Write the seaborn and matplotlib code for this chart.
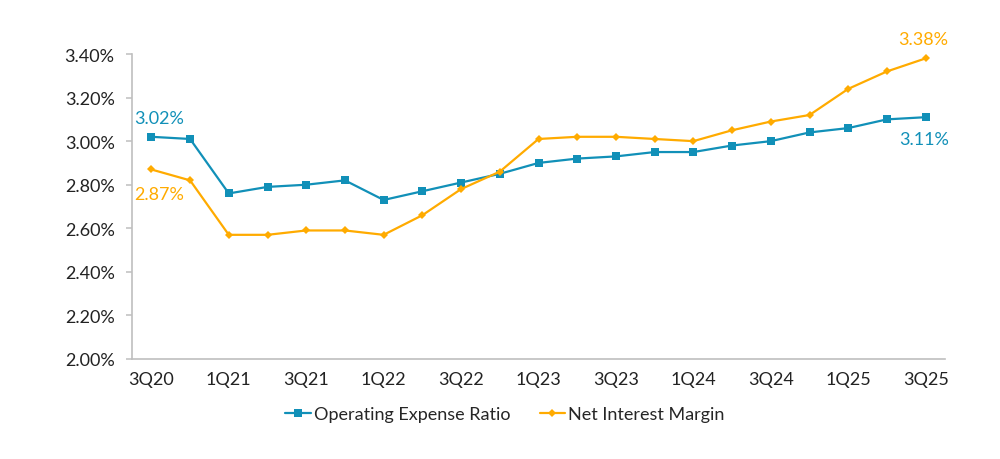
import numpy as np
import pandas as pd
import seaborn as sns
import matplotlib
matplotlib.use('Agg')
import matplotlib.pyplot as plt
from matplotlib.ticker import FuncFormatter, MultipleLocator

quarters = ['3Q20', '4Q20', '1Q21', '2Q21', '3Q21', '4Q21', '1Q22', '2Q22', '3Q22', '4Q22',
            '1Q23', '2Q23', '3Q23', '4Q23', '1Q24', '2Q24', '3Q24', '4Q24', '1Q25', '2Q25', '3Q25']
opex_ratio = [3.02, 3.01, 2.76, 2.79, 2.80, 2.82, 2.73, 2.77, 2.81, 2.85,
              2.90, 2.92, 2.93, 2.95, 2.95, 2.98, 3.00, 3.04, 3.06, 3.10, 3.11]
nim = [2.87, 2.82, 2.57, 2.57, 2.59, 2.59, 2.57, 2.66, 2.78, 2.86,
       3.01, 3.02, 3.02, 3.01, 3.00, 3.05, 3.09, 3.12, 3.24, 3.32, 3.38]
series_names = ['Operating Expense Ratio', 'Net Interest Margin']

blue = '#1190b8'
orange = '#ffab00'

sns.set_style('white')
plt.rcParams['font.family'] = ['Lato', 'DejaVu Sans']

df = pd.DataFrame({'pos': np.arange(len(quarters)), 'quarter': quarters,
                   series_names[0]: opex_ratio, series_names[1]: nim})

fig = plt.figure(figsize=(10, 4.6), dpi=100)
ax = fig.add_axes([0.132, 0.2174, 0.813, 0.663])

sns.lineplot(data=df, x='pos', y=series_names[0], color=blue, marker='s', markersize=6,
             markeredgewidth=0, linewidth=1.6, label=series_names[0], ax=ax)
sns.lineplot(data=df, x='pos', y=series_names[1], color=orange, marker='D', markersize=4,
             markeredgewidth=0, linewidth=1.6, label=series_names[1], ax=ax)

ax.set_xlim(-0.5, len(quarters) - 0.5)
ax.set_ylim(2.0, 3.4)
ax.yaxis.set_major_locator(MultipleLocator(0.2))
ax.yaxis.set_major_formatter(FuncFormatter(lambda v, p: f'{v:.2f}%'))
ax.set_xticks(df['pos'][::2])
ax.set_xticklabels(quarters[::2])
ax.set_xticks(np.arange(-0.5, len(quarters), 1), minor=True)
ax.set_xlabel('')
ax.set_ylabel('')

for s in ['top', 'right']:
    ax.spines[s].set_visible(False)
for s in ['left', 'bottom']:
    ax.spines[s].set_color('#bfbfbf')
    ax.spines[s].set_linewidth(1.2)

ax.tick_params(axis='x', which='major', length=0, pad=9, labelsize=13, labelcolor='#222222')
ax.tick_params(axis='x', which='minor', length=4.5, width=1.1, color='#bfbfbf', direction='out')
ax.tick_params(axis='y', length=4.5, width=1.1, color='#bfbfbf', pad=8, labelsize=13,
               labelcolor='#222222', left=True)

# end-point labels
last = len(quarters) - 1
ax.annotate(f'{opex_ratio[0]:.2f}%', xy=(0, opex_ratio[0]), xytext=(-17, 19),
            textcoords='offset pixels', ha='left', va='center', color=blue, fontsize=13)
ax.annotate(f'{nim[0]:.2f}%', xy=(0, nim[0]), xytext=(-17, -25),
            textcoords='offset pixels', ha='left', va='center', color=orange, fontsize=13)
ax.annotate(f'{nim[last]:.2f}%', xy=(last, nim[last]), xytext=(23, 19),
            textcoords='offset pixels', ha='right', va='center', color=orange, fontsize=13)
ax.annotate(f'{opex_ratio[last]:.2f}%', xy=(last, opex_ratio[last]), xytext=(23, -22),
            textcoords='offset pixels', ha='right', va='center', color=blue, fontsize=13)

handles, labels = ax.get_legend_handles_labels()
ax.get_legend().remove()
fig.legend(handles, labels, loc='center', bbox_to_anchor=(0.505, 0.098), ncol=2,
           frameon=False, fontsize=13, handlelength=1.4, handletextpad=0.2, columnspacing=1.6)

plt.savefig('out.png', dpi=100)
